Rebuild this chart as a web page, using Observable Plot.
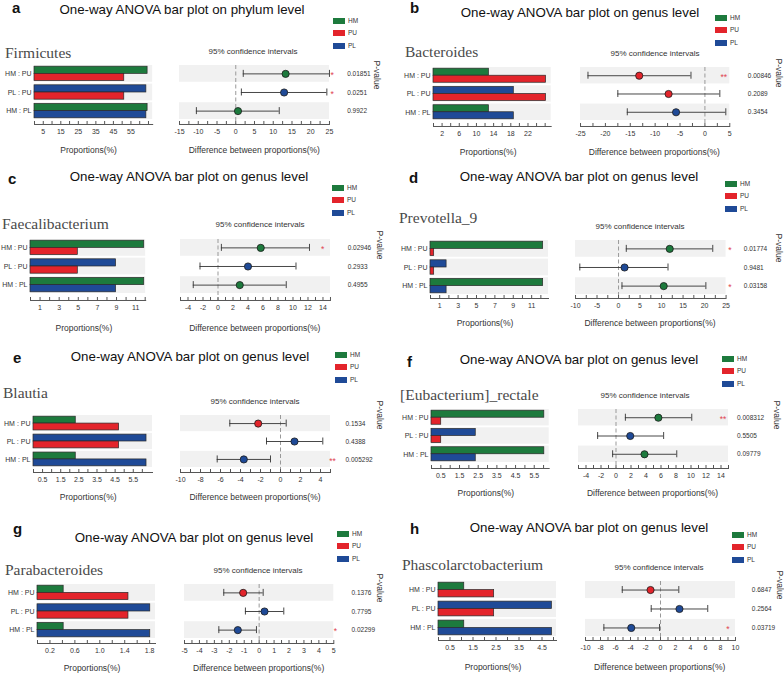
<!DOCTYPE html>
<html><head><meta charset="utf-8">
<script src="https://cdn.jsdelivr.net/npm/d3@7"></script>
<script src="https://cdn.jsdelivr.net/npm/@observablehq/plot@0.6"></script>
<style>
html,body{margin:0;padding:0;background:#fff;}
#root{position:relative;width:784px;height:674px;overflow:hidden;font-family:"Liberation Sans",Arial,sans-serif;color:#222;}
.t{position:absolute;white-space:nowrap;line-height:1;}
.p{position:absolute;width:392px;}
.sq{position:absolute;width:12px;height:6px;}
</style></head><body><div id="root"></div>
<script>
// ---------- data ----------
const panelLetters = ["a","b","c","d","e","f","g","h"];
const panelTitles = [
  "One-way ANOVA bar plot on phylum level",
  "One-way ANOVA bar plot on genus level",
  "One-way ANOVA bar plot on genus level",
  "One-way ANOVA bar plot on genus level",
  "One-way ANOVA bar plot on genus level",
  "One-way ANOVA bar plot on genus level",
  "One-way ANOVA bar plot on genus level",
  "One-way ANOVA bar plot on genus level"
];
const taxa = ["Firmicutes","Bacteroides","Faecalibacterium","Prevotella_9","Blautia","[Eubacterium]_rectale","Parabacteroides","Phascolarctobacterium"];
const groups = ["HM","PU","PL"];
const groupColors = ["#1d7a3d","#e3242b","#1f4a97"];
const comparisons = ["HM : PU","PL : PU","HM : PL"];
const pairs = [["HM","PU"],["PL","PU"],["HM","PL"]];
// mean proportions (%) per panel
const meanHM = [64.5, 12.9, 11.9, 12.25, 2.33, 6.04, 0.42, 1.12];
const meanPU = [51.2, 26.2, 4.95, 0.4, 4.72, 0.52, 1.46, 2.42];
const meanPL = [63.8, 18.7, 8.95, 1.75, 6.23, 2.37, 1.81, 4.93];
// difference between proportions and 95% CI, rows in comparisons order
const diffEst = [[13.3,12.9,0.6],[-13.2,-7.3,-5.8],[5.7,4.0,2.9],[11.9,1.4,10.5],[-2.23,1.4,-3.67],[5.65,1.9,3.8],[-1.07,0.36,-1.43],[-1.33,2.53,-3.9]];
const ciLow  = [[2.0,1.5,-10.5],[-23.5,-17.5,-15.6],[0.45,-2.4,-3.3],[1.8,-9.0,0.8],[-5.07,-1.4,-6.33],[1.25,-2.45,-0.45],[-2.37,-0.92,-2.7],[-5.1,-1.24,-7.55]];
const ciHigh = [[25.0,24.3,11.6],[-2.8,3.0,4.2],[12.2,10.4,9.1],[21.9,11.5,20.3],[0.57,4.23,-1.0],[10.1,6.35,8.1],[0.27,1.65,-0.18],[2.44,6.3,-0.13]];
const pValues = [["0.01851","0.0251","0.9922"],["0.00846","0.2089","0.3454"],["0.02946","0.2933","0.4955"],["0.01774","0.9481","0.03158"],["0.1534","0.4388","0.005292"],["0.008312","0.5505","0.09779"],["0.1376","0.7795","0.02299"],["0.6847","0.2564","0.03719"]];
// axis tick labels
const barLabels = [[5,15,25,35,45,55],[2,6,10,14,18,22],[1,3,5,7,9,11],[1,3,5,7,9,11],[0.5,1.5,2.5,3.5,4.5,5.5],[0.5,1.5,2.5,3.5,4.5,5.5],[0.2,0.6,1.0,1.4,1.8],[0.5,1.5,2.5,3.5,4.5]];
const barTickEnd = [65, 26, 12, 12, 6, 6, 1.8, 5];
const barTickStep = [5, 2, 1, 1, 0.5, 0.5, 0.2, 0.5];
const ciLabels = [[-15,-10,-5,0,5,10,15,20,25],[-25,-20,-15,-10,-5,0,5],[-4,-2,0,2,4,6,8,10,12,14],[-10,-5,0,5,10,15,20,25],[-10,-8,-6,-4,-2,0,2,4],[-4,-2,0,2,4,6,8,10,12,14],[-5,-4,-3,-2,-1,0,1,2,3,4,5],[-10,-8,-6,-4,-2,0,2,4,6,8,10]];
const ciDomain = [[-15,25],[-25,5],[-5,15],[-10,25],[-10,5],[-5,15],[-5,5],[-10,10]];
const ciTickStep = [2.5, 2.5, 1, 2.5, 1, 1, 0.5, 1];

// ---------- layout (pixels, relative to each panel) ----------
const layout = [
 {ox:0,oy:0,letter:[12,7],title:[182,10],legend:[333,21],taxon:[5,53],rowTop:65,rowBottom:119,axisY:124,barX0:33.5,barX1:151.7,barMax:67.4,ciX0:179.3,ciX1:329.3,ciLabel:[253,52],axisTitleY:150,pvalX:347,starX:332,pLabel:[377,75]},
 {ox:392,oy:0,letter:[18,7],title:[188,13],legend:[323,18],taxon:[13,52],rowTop:67,rowBottom:120,axisY:126,barX0:41.3,barX1:159,barMax:27.4,ciX0:187.7,ciX1:337,ciLabel:[263,54],axisTitleY:152,pvalX:355,starX:331,pLabel:[387,73]},
 {ox:0,oy:165,letter:[8,13],title:[189,12],legend:[332,23],taxon:[2,59],rowTop:74,rowBottom:128,axisY:135,barX0:30.3,barX1:145.5,barMax:12.05,ciX0:179.8,ciX1:329.8,ciLabel:[260,60],axisTitleY:163,pvalX:347,starX:322,pLabel:[380,80]},
 {ox:392,oy:165,letter:[17,12],title:[187,12],legend:[333,19],taxon:[7,53],rowTop:75,rowBottom:129,axisY:133,barX0:38,barX1:156,barMax:12.83,ciX0:182.7,ciX1:333.3,ciLabel:[248,62],axisTitleY:158,pvalX:351,starX:337,pLabel:[387,83]},
 {ox:0,oy:330,letter:[13,27],title:[190,27],legend:[335,25],taxon:[3,63],rowTop:85,rowBottom:137,axisY:142,barX0:32.7,barX1:151.7,barMax:6.56,ciX0:180,ciX1:330,ciLabel:[255,72],axisTitleY:167,pvalX:345,starX:332,pLabel:[380,85]},
 {ox:392,oy:330,letter:[15,31],title:[187,30],legend:[330,29],taxon:[8,65],rowTop:79,rowBottom:132,axisY:138,barX0:39,barX1:156.7,barMax:6.3,ciX0:185.5,ciX1:335.5,ciLabel:[253,66],axisTitleY:163,pvalX:344,starX:330,pLabel:[385,85]},
 {ox:0,oy:495,letter:[13,33],title:[194,43],legend:[337,39],taxon:[5,75],rowTop:89,rowBottom:143,axisY:148,barX0:37,barX1:155,barMax:1.894,ciX0:184,ciX1:333.3,ciLabel:[258,76],axisTitleY:173,pvalX:351,starX:335,pLabel:[380,93]},
 {ox:392,oy:495,letter:[18,33],title:[197,33],legend:[340,40],taxon:[10,70],rowTop:86,rowBottom:141,axisY:145,barX0:46,barX1:164,barMax:5.13,ciX0:192.7,ciX1:342.7,ciLabel:[267,73],axisTitleY:172,pvalX:359,starX:335,pLabel:[388,90]}
];

const FONT = '"Liberation Sans", Arial, sans-serif';
const root = document.getElementById("root");

function txt(parent, s, x, y, o = {}) {
  const d = document.createElement("div");
  d.className = "t";
  d.textContent = s;
  const ax = o.anchor === "middle" ? "-50%" : o.anchor === "end" ? "-100%" : "0";
  d.style.left = x + "px";
  d.style.top = y + "px";
  d.style.fontSize = (o.size || 8) + "px";
  if (o.weight) d.style.fontWeight = o.weight;
  if (o.family) d.style.fontFamily = o.family;
  d.style.color = o.color || "#222";
  d.style.transform = `translate(${ax},-50%)` + (o.rotate ? ` rotate(${o.rotate}deg)` : "");
  parent.appendChild(d);
  return d;
}

function fmtFor(labels) {
  const dec = labels.some(v => !Number.isInteger(v));
  return v => dec ? v.toFixed(1) : String(v);
}
function rangeInc(a, b, s) {
  const out = [];
  const n = Math.round((b - a) / s);
  for (let k = 0; k <= n; k++) out.push(+(a + k * s).toFixed(6));
  return out;
}

layout.forEach((L, i) => {
  const panel = document.createElement("div");
  panel.className = "p";
  panel.style.left = L.ox + "px";
  panel.style.top = L.oy + "px";
  panel.style.height = (i >= 6 ? 179 : 165) + "px";
  root.appendChild(panel);

  txt(panel, panelLetters[i], L.letter[0], L.letter[1], {size: 15, weight: "bold", color: "#111"});
  txt(panel, panelTitles[i], L.title[0], L.title[1], {size: 13.3, anchor: "middle", color: "#111"});
  groups.forEach((g, k) => {
    const sq = document.createElement("div");
    sq.className = "sq";
    sq.style.left = L.legend[0] + "px";
    sq.style.top = (L.legend[1] + k * 12.3 - 3) + "px";
    sq.style.background = groupColors[k];
    panel.appendChild(sq);
    txt(panel, g, L.legend[0] + 15, L.legend[1] + k * 12.3, {size: 6.5, color: "#333"});
  });
  txt(panel, taxa[i], L.taxon[0], L.taxon[1], {size: 15.5, family: '"Liberation Serif", "DejaVu Serif", serif', color: "#4a4a4a"});
  txt(panel, "95% confidence intervals", L.ciLabel[0], L.ciLabel[1], {size: 8, anchor: "middle", color: "#333"});
  txt(panel, "Proportions(%)", (L.barX0 + L.barX1) / 2 - 4, L.axisTitleY, {size: 8.5, anchor: "middle", color: "#333"});
  txt(panel, "Difference between proportions(%)", (L.ciX0 + L.ciX1) / 2, L.axisTitleY, {size: 8.5, anchor: "middle", color: "#333"});
  txt(panel, "P-value", L.pLabel[0], L.pLabel[1], {size: 8.5, anchor: "middle", rotate: 90, color: "#333"});

  const means = {HM: meanHM[i], PU: meanPU[i], PL: meanPL[i]};
  const rows = comparisons.map((c, r) => {
    const [g1, g2] = pairs[r];
    const p = pValues[i][r];
    return {
      comp: c, g1, g2, v1: means[g1], v2: means[g2],
      est: diffEst[i][r], lo: ciLow[i][r], hi: ciHigh[i][r], p,
      winner: means[g1] >= means[g2] ? g1 : g2,
      star: +p < 0.01 ? "**" : +p < 0.05 ? "*" : ""
    };
  });

  const mT = 1, mB = 16, pad = 0.1;
  const bandsH = L.rowBottom - L.rowTop;
  const H = mT + (L.axisY - L.rowTop) + mB;
  const bw = bandsH * (1 - pad) / (3 - pad);
  const yScale = {type: "band", domain: comparisons, range: [mT, mT + bandsH], paddingInner: pad, paddingOuter: 0, round: false, axis: null, label: null};
  const colorScale = {type: "ordinal", domain: groups, range: groupColors};
  const style = {background: "transparent", fontFamily: FONT, fontSize: "7px", color: "#333", overflow: "visible"};

  // ---- bar chart ----
  const mL = 40, mR = 2;
  const bFmt = fmtFor(barLabels[i]);
  const barPlot = Plot.plot({
    width: mL + (L.barX1 - L.barX0) + mR, height: H,
    marginLeft: mL, marginRight: mR, marginTop: mT, marginBottom: mB,
    style,
    x: {domain: [0, L.barMax], axis: null, label: null},
    y: yScale,
    color: colorScale,
    marks: [
      Plot.barX(comparisons, {y: d => d, x1: 0, x2: L.barMax, fill: "#f1f1f1"}),
      Plot.barX(rows, {y: "comp", x: "v1", fill: "g1", stroke: "#2a2a2a", strokeWidth: 0.7, insetTop: 1.2, insetBottom: bw / 2}),
      Plot.barX(rows, {y: "comp", x: "v2", fill: "g2", stroke: "#2a2a2a", strokeWidth: 0.7, insetTop: bw / 2, insetBottom: 1.2}),
      Plot.axisY({tickSize: 0, tickPadding: 3, fontSize: 7, label: null}),
      Plot.frame({anchor: "bottom", stroke: "#555"}),
      Plot.axisX(rangeInc(0, barTickEnd[i], barTickStep[i]), {tickSize: 3, dy: -3, tickFormat: () => "", label: null, stroke: "#555"}),
      Plot.axisX(barLabels[i], {tickSize: 0, tickPadding: 5, tickFormat: bFmt, label: null, fontSize: 7})
    ]
  });
  barPlot.style.position = "absolute";
  barPlot.style.left = (L.barX0 - mL) + "px";
  barPlot.style.top = (L.rowTop - mT) + "px";
  panel.appendChild(barPlot);

  // ---- confidence interval chart ----
  const cmL = 10, cmR = L.pvalX + 32 - L.ciX1;
  const [cx0, cx1] = ciDomain[i];
  const cFmt = fmtFor(ciLabels[i]);
  const ciPlot = Plot.plot({
    width: cmL + (L.ciX1 - L.ciX0) + cmR, height: H,
    marginLeft: cmL, marginRight: cmR, marginTop: mT, marginBottom: mB,
    style,
    x: {domain: [cx0, cx1], axis: null, label: null},
    y: yScale,
    color: colorScale,
    marks: [
      Plot.barX([comparisons[0], comparisons[2]], {y: d => d, x1: cx0, x2: cx1, fill: "#f1f1f1"}),
      Plot.ruleX([0], {stroke: "#999", strokeDasharray: "4,2.5", strokeWidth: 1}),
      Plot.ruleY(rows, {y: "comp", x1: "lo", x2: "hi", stroke: "#333", strokeWidth: 0.9}),
      Plot.tickX(rows, {x: "lo", y: "comp", stroke: "#333", strokeWidth: 0.9, insetTop: bw / 2 - 3.5, insetBottom: bw / 2 - 3.5}),
      Plot.tickX(rows, {x: "hi", y: "comp", stroke: "#333", strokeWidth: 0.9, insetTop: bw / 2 - 3.5, insetBottom: bw / 2 - 3.5}),
      Plot.dot(rows, {x: "est", y: "comp", r: 3.6, fill: "winner", stroke: "#1a1a1a", strokeWidth: 0.8}),
      Plot.text(rows, {y: "comp", text: "star", frameAnchor: "right", dx: L.starX - L.ciX1, dy: 1.5, textAnchor: "middle", fill: "#e04550", fontSize: 8.5}),
      Plot.text(rows, {y: "comp", text: "p", frameAnchor: "right", dx: L.pvalX - L.ciX1, textAnchor: "start", fontSize: 6.5, fill: "#333"}),
      Plot.frame({anchor: "bottom", stroke: "#555"}),
      Plot.axisX(rangeInc(cx0, cx1, ciTickStep[i]), {tickSize: 3, dy: -3, tickFormat: () => "", label: null, stroke: "#555"}),
      Plot.axisX(ciLabels[i], {tickSize: 0, tickPadding: 5, tickFormat: cFmt, label: null, fontSize: 7})
    ]
  });
  ciPlot.style.position = "absolute";
  ciPlot.style.left = (L.ciX0 - cmL) + "px";
  ciPlot.style.top = (L.rowTop - mT) + "px";
  panel.appendChild(ciPlot);
});
</script></body></html>
